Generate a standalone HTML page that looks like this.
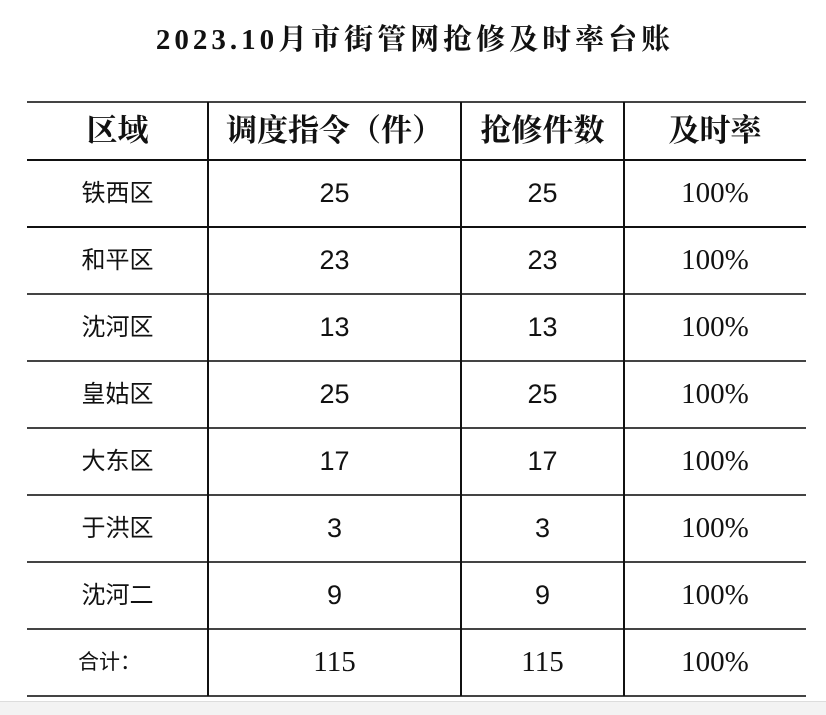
<!DOCTYPE html>
<html><head><meta charset="utf-8"><style>
body{margin:0;width:826px;height:714px;background:#fff;position:relative;overflow:hidden}
.bot{position:absolute;left:0;top:701px;width:826px;height:13px;background:#f3f3f3;border-top:1px solid #ddd}
.t{position:absolute;left:0;width:826px;top:17px;text-align:center;font:bold 29px "Liberation Serif","Noto Serif CJK SC",serif;color:#111;letter-spacing:4px;text-indent:4px}
.h{position:absolute;left:27px;width:779px;height:2px;background:#444}
.v{position:absolute;width:2px;background:#111;top:102px;height:594px}
.c{position:absolute;text-align:center;color:#111}
.hd{font:bold 31px "Liberation Serif","Noto Serif CJK SC",serif}
.lb{font:24px "Liberation Sans","Noto Sans CJK SC",sans-serif}
.n{font:27px "Liberation Sans","Noto Sans CJK SC",sans-serif}
.p{font:29px "Liberation Serif","Noto Serif CJK SC",serif}
</style></head><body>
<div class="t">2023.10月市街管网抢修及时率台账</div>
<div class="h" style="top:101px"></div>
<div class="h" style="top:159px;background:#111"></div>
<div class="h" style="top:226px;background:#111"></div>
<div class="h" style="top:293px"></div>
<div class="h" style="top:360px"></div>
<div class="h" style="top:427px"></div>
<div class="h" style="top:494px"></div>
<div class="h" style="top:561px"></div>
<div class="h" style="top:628px"></div>
<div class="h" style="top:695px"></div>
<div class="v" style="left:207px"></div>
<div class="v" style="left:460px"></div>
<div class="v" style="left:623px"></div>
<div id="cells"></div>
<div class="bot"></div>
<script>
var cols=[[27,208],[208,461],[461,624],[624,806]];
var hd=["区域","调度指令（件）","抢修件数","及时率"];
var rows=[["铁西区",25,25],["和平区",23,23],["沈河区",13,13],["皇姑区",25,25],["大东区",17,17],["于洪区",3,3],["沈河二",9,9]];
var h="";
function cell(i,top,hgt,cls,txt){h+='<div class="c '+cls+'" style="left:'+cols[i][0]+'px;width:'+(cols[i][1]-cols[i][0])+'px;top:'+top+'px;height:'+hgt+'px;line-height:'+hgt+'px">'+txt+'</div>';}
for(var i=0;i<4;i++)cell(i,102,58,"hd",hd[i]);
rows.forEach(function(r,k){var t=160+k*67;cell(0,t,67,"lb",r[0]);cell(1,t,67,"n",r[1]);cell(2,t,67,"n",r[2]);cell(3,t,67,"p","100%");});
var t=629;
h+='<div class="c lb" style="left:78px;top:'+t+'px;height:67px;line-height:67px;font-size:21px">合计：</div>';
cell(1,t,67,"p","115");cell(2,t,67,"p","115");cell(3,t,67,"p","100%");
document.getElementById("cells").innerHTML=h;
</script>
</body></html>
